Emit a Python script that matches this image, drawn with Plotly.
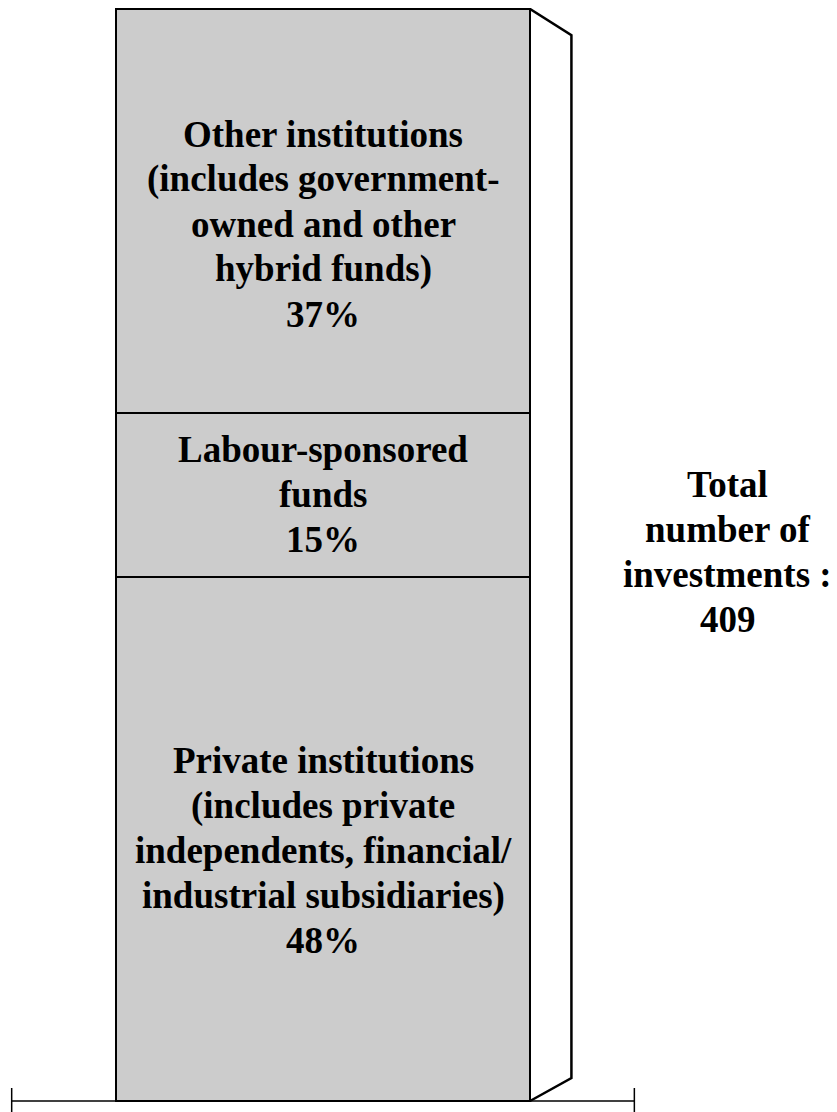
import plotly.graph_objects as go

# Data (bottom to top of the stacked column)
categories = ["Private institutions", "Labour-sponsored funds", "Other institutions"]
shares = [48, 15, 37]
label_lines = [
    ["Private institutions", "(includes private", "independents, financial/",
     "industrial subsidiaries)", "48%"],
    ["Labour-sponsored", "funds", "15%"],
    ["Other institutions", "(includes government-", "owned and other",
     "hybrid funds)", "37%"],
]
total_lines = ["Total", "number of", "investments :", "409"]

FONT = "Liberation Serif, Times New Roman, serif"
FILL = "#cccccc"
LINE_SP = 45  # px between text lines

fig = go.Figure()
for name, v in zip(categories, shares):
    fig.add_trace(go.Bar(
        x=[0], y=[v], name=name, width=1,
        marker=dict(color=FILL, line=dict(color="black", width=2)),
        hoverinfo="name+y",
    ))

total = sum(shares)

# text annotations, one per line
offsets = [-1.1, 0.0, -1.2]  # data-unit nudges of block centres
base = 0
for vals, lines, off in zip(shares, label_lines, offsets):
    mid = base + vals / 2 + off
    n = len(lines)
    for i, t in enumerate(lines):
        fig.add_annotation(
            x=0, y=mid, xref="x", yref="y", text="<b>%s</b>" % t,
            showarrow=False, yshift=((n - 1) / 2 - i) * LINE_SP,
            font=dict(family=FONT, size=37, color="black"),
            xanchor="center", yanchor="middle",
        )
    base += vals

n = len(total_lines)
for i, t in enumerate(total_lines):
    fig.add_annotation(
        x=0.978, y=total / 2 + 0.3, xref="x", yref="y", text="<b>%s</b>" % t,
        showarrow=False, yshift=((n - 1) / 2 - i) * LINE_SP,
        font=dict(family=FONT, size=37, color="black"),
        xanchor="center", yanchor="middle",
    )

# 3D side face (outline only)
dx, dy_top, dy_bot = 0.1, 2.4, 2.1
fig.add_shape(
    type="path", xref="x", yref="y",
    path="M 0.5,%s L %s,%s L %s,%s L 0.5,0" % (
        total, 0.5 + dx, total - dy_top, 0.5 + dx, dy_bot),
    line=dict(color="black", width=2.5), fillcolor="rgba(0,0,0,0)",
)

# baseline with end ticks
half = 0.752
fig.add_shape(type="line", xref="x", yref="y", x0=-half, x1=half, y0=0, y1=0,
              line=dict(color="black", width=1.5))
for xe in (-half, half):
    fig.add_shape(type="line", xref="x", yref="y", x0=xe, x1=xe, y0=1.19, y1=-1.1,
                  line=dict(color="black", width=1.5))

fig.update_layout(
    barmode="stack", width=829, height=1104,
    margin=dict(l=0, r=0, t=0, b=0),
    paper_bgcolor="white", plot_bgcolor="white",
    showlegend=False,
    xaxis=dict(range=[-0.7609, 1.2415], visible=False, fixedrange=True),
    yaxis=dict(range=[-1.007, 100.09], visible=False, fixedrange=True),
)

fig.write_html("out.html")
